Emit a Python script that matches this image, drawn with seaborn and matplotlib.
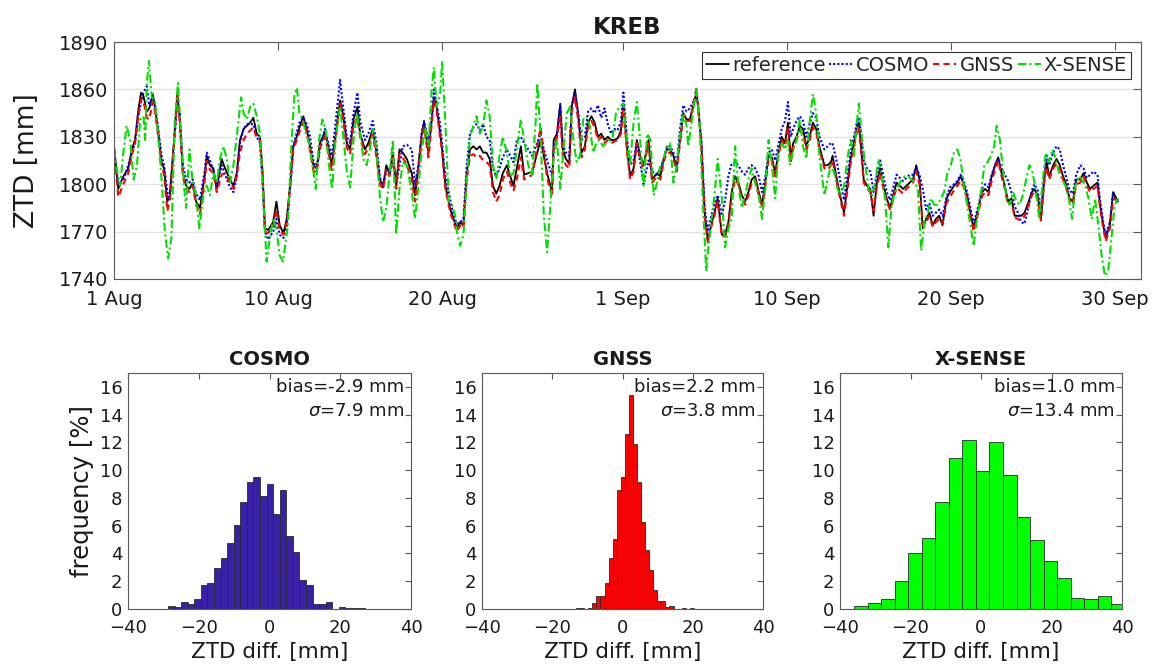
import numpy as np
import pandas as pd
import matplotlib
matplotlib.use("Agg")
import matplotlib.pyplot as plt
import seaborn as sns

# ---------------- time series data (days since 1 Aug) ----------------
day = [
    0, 0.26, 0.57, 0.87, 1.08, 1.28, 1.48, 1.65, 1.79, 2.0,
    2.15, 2.36, 2.5, 2.7, 2.9, 3.05, 3.25, 3.4, 3.66, 3.86,
    4.0, 4.2, 4.4, 4.6, 4.8, 5.0, 5.24, 5.55, 5.65, 5.85,
    6.06, 6.26, 6.56, 6.77, 7.07, 7.28, 7.48, 7.68, 7.9, 8.1,
    8.3, 8.5, 8.7, 8.9, 9.06, 9.2, 9.4, 9.7, 9.9, 10.1,
    10.33, 10.53, 10.73, 10.93, 11.14, 11.34, 11.54, 11.74, 11.95, 12.15,
    12.35, 12.55, 12.86, 13.06, 13.27, 13.47, 13.78, 13.98, 14.19, 14.39,
    14.6, 14.84, 15.0, 15.3, 15.5, 15.77, 16.0, 16.2, 16.4, 16.6,
    16.8, 17.0, 17.2, 17.4, 17.6, 17.85, 18.15, 18.35, 18.56, 18.76,
    18.9, 19.17, 19.37, 19.5, 19.67, 19.88, 20.0, 20.2, 20.5, 20.7,
    20.9, 21.1, 21.3, 21.5, 21.7, 21.9, 22.1, 22.3, 22.5, 22.7,
    22.9, 23.1, 23.3, 23.5, 23.7, 23.95, 24.15, 24.35, 24.55, 24.8,
    25.0, 25.5, 26.0, 26.2, 26.4, 26.7, 26.8, 27.0, 27.2, 27.35,
    27.55, 27.75, 27.9, 28.1, 28.3, 28.5, 28.7, 28.9, 29.1, 29.3,
    29.5, 29.7, 29.9, 30.1, 30.3, 30.5, 30.7, 30.9, 31.05, 31.26,
    31.46, 31.67, 31.87, 32.07, 32.28, 32.58, 32.8, 33.1, 33.3, 33.5,
    33.7, 33.9, 34.1, 34.3, 34.5, 34.7, 34.9, 35.1, 35.3, 35.5,
    35.6, 35.8, 36.0, 36.2, 36.4, 36.6, 36.8, 37.05, 37.25, 37.45,
    37.65, 37.86, 38.06, 38.27, 38.47, 38.67, 38.87, 39.08, 39.3, 39.5,
    39.7, 39.9, 40.1, 40.3, 40.5, 40.7, 40.9, 41.08, 41.25, 41.4,
    41.6, 41.8, 42.0, 42.2, 42.4, 42.6, 42.8, 43.0, 43.3, 43.5,
    43.7, 43.8, 44.1, 44.3, 44.5, 44.7, 44.9, 45.1, 45.3, 45.4,
    45.5, 45.7, 45.9, 46.1, 46.3, 46.5, 46.7, 46.9, 47.1, 47.3,
    47.5, 47.7, 47.9, 48.1, 48.3, 48.5, 48.7, 48.9, 49.1, 49.3,
    49.5, 49.7, 49.9, 50.1, 50.3, 50.5, 50.75, 50.95, 51.2, 51.4,
    51.6, 51.8, 52.0, 52.2, 52.4, 52.7, 52.9, 53.1, 53.3, 53.5,
    53.7, 53.9, 54.1, 54.3, 54.5, 54.7, 54.9, 55.1, 55.3, 55.5,
    55.75, 55.95, 56.1, 56.3, 56.5, 56.7, 56.85, 57.0, 57.25, 57.45,
    57.65, 57.85, 58.0, 58.25, 58.45, 58.65, 58.9, 59.1, 59.3, 59.5,
    59.7, 59.95, 60.1, 60.3, 60.45, 60.7, 60.9, 61.0, 61.2,
]

reference = [
    1824, 1797, 1805, 1810, 1822, 1828, 1847, 1858, 1856, 1846,
    1848, 1857, 1849, 1832, 1814, 1810, 1789, 1793, 1828, 1857,
    1843, 1807, 1799, 1797, 1801, 1789, 1785, 1807, 1818, 1812,
    1810, 1797, 1816, 1810, 1803, 1799, 1807, 1828, 1835, 1837,
    1839, 1842, 1832, 1830, 1807, 1772, 1771, 1776, 1789, 1774,
    1769, 1778, 1799, 1824, 1830, 1837, 1843, 1835, 1824, 1812,
    1810, 1826, 1833, 1824, 1812, 1828, 1853, 1843, 1826, 1822,
    1841, 1849, 1832, 1822, 1826, 1835, 1820, 1803, 1799, 1812,
    1807, 1820, 1799, 1822, 1820, 1816, 1807, 1793, 1812, 1832,
    1839, 1820, 1841, 1855, 1849, 1832, 1822, 1799, 1784, 1778,
    1772, 1776, 1774, 1807, 1822, 1824, 1822, 1824, 1820, 1820,
    1816, 1799, 1794, 1799, 1807, 1812, 1805, 1799, 1810, 1824,
    1806, 1808, 1828, 1818, 1807, 1795, 1828, 1832, 1851, 1822,
    1816, 1813, 1849, 1860, 1843, 1820, 1824, 1839, 1843, 1839,
    1830, 1832, 1828, 1830, 1828, 1828, 1829, 1834, 1851, 1824,
    1805, 1810, 1828, 1818, 1812, 1828, 1803, 1807, 1805, 1816,
    1822, 1822, 1818, 1810, 1828, 1845, 1841, 1841, 1849, 1858,
    1849, 1826, 1782, 1764, 1774, 1782, 1791, 1768, 1768, 1776,
    1795, 1805, 1801, 1793, 1789, 1795, 1803, 1805, 1795, 1787,
    1801, 1818, 1817, 1807, 1820, 1830, 1826, 1839, 1816, 1826,
    1830, 1837, 1835, 1824, 1830, 1839, 1835, 1824, 1812, 1812,
    1814, 1818, 1801, 1791, 1782, 1799, 1816, 1826, 1837, 1839,
    1828, 1803, 1799, 1797, 1780, 1801, 1810, 1799, 1791, 1785,
    1793, 1801, 1799, 1797, 1799, 1801, 1803, 1812, 1803, 1772,
    1778, 1782, 1774, 1778, 1780, 1774, 1791, 1795, 1799, 1801,
    1805, 1800, 1793, 1782, 1772, 1785, 1795, 1797, 1795, 1805,
    1812, 1817, 1807, 1799, 1789, 1791, 1780, 1780, 1780, 1782,
    1789, 1795, 1797, 1793, 1778, 1803, 1814, 1805, 1812, 1816,
    1812, 1805, 1801, 1791, 1789, 1803, 1803, 1807, 1801, 1797,
    1799, 1801, 1787, 1774, 1766, 1774, 1795, 1793, 1789,
]

cosmo = [
    1822, 1800, 1803, 1812, 1820, 1826, 1843, 1852, 1858, 1862,
    1850, 1855, 1850, 1835, 1818, 1812, 1795, 1790, 1825, 1853,
    1845, 1812, 1803, 1801, 1803, 1794, 1790, 1810, 1820, 1815,
    1808, 1798, 1812, 1806, 1798, 1795, 1805, 1826, 1835, 1838,
    1838, 1838, 1830, 1826, 1800, 1770, 1765, 1770, 1778, 1768,
    1766, 1774, 1797, 1824, 1833, 1840, 1842, 1838, 1830, 1815,
    1810, 1822, 1835, 1826, 1818, 1835, 1866, 1848, 1830, 1826,
    1845, 1858, 1840, 1828, 1832, 1840, 1826, 1805, 1797, 1810,
    1806, 1815, 1800, 1812, 1824, 1825, 1822, 1800, 1812, 1833,
    1840, 1828, 1842, 1860, 1850, 1838, 1825, 1805, 1790, 1780,
    1775, 1776, 1778, 1812, 1832, 1836, 1838, 1834, 1838, 1830,
    1828, 1810, 1805, 1810, 1817, 1822, 1818, 1814, 1828, 1830,
    1826, 1818, 1832, 1822, 1815, 1805, 1820, 1830, 1850, 1825,
    1820, 1818, 1850, 1858, 1845, 1828, 1830, 1846, 1848, 1845,
    1850, 1842, 1848, 1838, 1832, 1835, 1834, 1840, 1858, 1830,
    1812, 1815, 1826, 1814, 1800, 1815, 1808, 1806, 1810, 1815,
    1824, 1824, 1820, 1812, 1835, 1850, 1846, 1848, 1852, 1856,
    1850, 1828, 1785, 1770, 1780, 1788, 1793, 1780, 1790, 1805,
    1813, 1814, 1812, 1808, 1806, 1810, 1812, 1810, 1805, 1795,
    1805, 1820, 1822, 1815, 1825, 1835, 1840, 1852, 1830, 1835,
    1840, 1843, 1840, 1830, 1838, 1845, 1842, 1830, 1822, 1824,
    1826, 1826, 1812, 1800, 1790, 1805, 1820, 1830, 1840, 1842,
    1835, 1815, 1810, 1808, 1795, 1806, 1815, 1805, 1795, 1790,
    1798, 1806, 1804, 1802, 1804, 1806, 1806, 1810, 1806, 1797,
    1784, 1788, 1780, 1782, 1784, 1780, 1792, 1798, 1800, 1802,
    1806, 1802, 1795, 1785, 1775, 1787, 1797, 1800, 1798, 1806,
    1812, 1816, 1810, 1806, 1802, 1795, 1786, 1782, 1776, 1775,
    1786, 1796, 1800, 1796, 1782, 1805, 1818, 1812, 1820, 1824,
    1822, 1812, 1806, 1796, 1794, 1806, 1812, 1810, 1804, 1806,
    1808, 1806, 1790, 1776, 1768, 1776, 1795, 1792, 1790,
]

gnss = [
    1823, 1792, 1800, 1807, 1818, 1826, 1843, 1854, 1853, 1842,
    1841, 1852, 1846, 1830, 1812, 1806, 1783, 1790, 1826, 1856,
    1840, 1805, 1797, 1795, 1799, 1787, 1781, 1804, 1815, 1809,
    1807, 1795, 1806, 1807, 1801, 1797, 1805, 1820, 1828, 1832,
    1834, 1836, 1829, 1828, 1805, 1770, 1769, 1774, 1784, 1771,
    1768, 1776, 1797, 1822, 1828, 1834, 1840, 1833, 1821, 1809,
    1807, 1823, 1830, 1821, 1809, 1826, 1851, 1840, 1823, 1819,
    1838, 1842, 1830, 1819, 1823, 1832, 1817, 1800, 1797, 1809,
    1805, 1817, 1797, 1819, 1817, 1812, 1803, 1789, 1809, 1830,
    1836, 1817, 1839, 1853, 1846, 1830, 1820, 1797, 1782, 1776,
    1770, 1774, 1772, 1803, 1818, 1819, 1817, 1818, 1815, 1814,
    1812, 1795, 1789, 1793, 1803, 1808, 1801, 1796, 1803, 1817,
    1803, 1806, 1836, 1820, 1804, 1792, 1822, 1830, 1843, 1818,
    1812, 1810, 1846, 1855, 1840, 1817, 1822, 1836, 1840, 1836,
    1828, 1830, 1826, 1828, 1826, 1827, 1828, 1832, 1848, 1822,
    1803, 1808, 1826, 1816, 1810, 1826, 1801, 1805, 1803, 1814,
    1820, 1820, 1816, 1808, 1826, 1843, 1840, 1840, 1850, 1861,
    1850, 1825, 1780, 1763, 1773, 1780, 1789, 1767, 1767, 1774,
    1793, 1803, 1800, 1791, 1787, 1793, 1801, 1803, 1793, 1785,
    1799, 1816, 1815, 1805, 1818, 1828, 1824, 1836, 1814, 1823,
    1828, 1834, 1832, 1822, 1828, 1836, 1833, 1822, 1810, 1809,
    1812, 1815, 1799, 1789, 1780, 1796, 1813, 1823, 1834, 1836,
    1825, 1801, 1797, 1795, 1783, 1799, 1807, 1797, 1789, 1784,
    1790, 1798, 1796, 1794, 1797, 1799, 1801, 1808, 1800, 1774,
    1776, 1780, 1773, 1776, 1778, 1775, 1788, 1792, 1796, 1799,
    1802, 1798, 1791, 1780, 1770, 1783, 1792, 1795, 1793, 1802,
    1809, 1815, 1805, 1797, 1787, 1789, 1779, 1778, 1777, 1780,
    1787, 1793, 1795, 1791, 1777, 1801, 1811, 1803, 1810, 1813,
    1810, 1803, 1799, 1790, 1787, 1800, 1801, 1805, 1799, 1795,
    1797, 1799, 1785, 1772, 1764, 1772, 1790, 1791, 1788,
]

xsense_day = [
    0, 0.16, 0.37, 0.57, 0.77, 0.98, 1.2, 1.4, 1.6, 1.8,
    1.9, 2.0, 2.13, 2.3, 2.5, 2.7, 2.9, 3.1, 3.3, 3.5,
    3.7, 3.9, 4.1, 4.3, 4.4, 4.6, 4.8, 5.0, 5.2, 5.45,
    5.65, 5.85, 6.06, 6.26, 6.46, 6.67, 6.87, 7.07, 7.28, 7.6,
    7.75, 7.9, 8.1, 8.3, 8.5, 8.7, 8.9, 9.1, 9.3, 9.5,
    9.7, 9.9, 10.1, 10.3, 10.6, 10.8, 11.0, 11.15, 11.3, 11.5,
    11.7, 11.9, 12.1, 12.3, 12.5, 12.7, 12.9, 13.1, 13.3, 13.5,
    13.77, 14.0, 14.2, 14.4, 14.6, 14.8, 15.0, 15.2, 15.4, 15.6,
    15.8, 16.0, 16.2, 16.4, 16.6, 16.8, 17.0, 17.2, 17.4, 17.6,
    17.85, 18.15, 18.35, 18.56, 18.76, 18.97, 19.17, 19.37, 19.5, 19.67,
    19.88, 20.0, 20.2, 20.4, 20.6, 20.8, 20.9, 21.1, 21.3, 21.5,
    21.7, 21.9, 22.1, 22.3, 22.5, 22.7, 22.9, 23.1, 23.3, 23.5,
    23.7, 23.95, 24.15, 24.35, 24.55, 24.8, 25.0, 25.25, 25.46, 25.7,
    25.8, 26.0, 26.2, 26.4, 26.6, 26.8, 27.0, 27.2, 27.4, 27.6,
    27.8, 28.0, 28.2, 28.4, 28.6, 28.8, 29.0, 29.2, 29.4, 29.6,
    29.8, 30.0, 30.2, 30.4, 30.6, 30.8, 31.05, 31.26, 31.46, 31.67,
    31.87, 32.07, 32.28, 32.5, 32.7, 32.9, 33.1, 33.3, 33.5, 33.7,
    33.9, 34.1, 34.3, 34.5, 34.7, 34.9, 35.0, 35.2, 35.5, 35.7,
    35.9, 36.1, 36.2, 36.4, 36.6, 36.8, 37.05, 37.25, 37.45, 37.65,
    37.86, 38.06, 38.27, 38.47, 38.67, 38.87, 39.08, 39.3, 39.5, 39.7,
    39.9, 40.1, 40.3, 40.5, 40.7, 40.9, 41.08, 41.2, 41.4, 41.6,
    41.8, 42.0, 42.2, 42.4, 42.6, 42.8, 43.0, 43.3, 43.5, 43.7,
    43.9, 44.1, 44.3, 44.5, 44.7, 44.9, 45.1, 45.3, 45.4, 45.6,
    45.8, 46.0, 46.2, 46.4, 46.6, 46.8, 47.0, 47.2, 47.4, 47.6,
    47.8, 48.0, 48.2, 48.4, 48.6, 48.8, 49.0, 49.2, 49.4, 49.6,
    49.8, 50.0, 50.2, 50.4, 50.6, 50.8, 51.0, 51.2, 51.4, 51.6,
    51.8, 52.0, 52.2, 52.4, 52.6, 52.85, 53.05, 53.25, 53.45, 53.65,
    53.8, 54.0, 54.2, 54.4, 54.6, 54.8, 55.0, 55.2, 55.4, 55.6,
    55.8, 56.0, 56.2, 56.4, 56.6, 56.8, 57.0, 57.2, 57.4, 57.6,
    57.8, 58.0, 58.2, 58.4, 58.6, 58.8, 59.0, 59.2, 59.4, 59.6,
    59.8, 60.0, 60.2, 60.4, 60.6, 60.8, 61.0, 61.2,
]

xsense = [
    1822, 1810, 1799, 1820, 1837, 1828, 1803, 1812, 1841, 1843,
    1828, 1864, 1878, 1855, 1853, 1830, 1803, 1770, 1753, 1766,
    1839, 1864, 1828, 1795, 1785, 1822, 1801, 1793, 1772, 1793,
    1799, 1793, 1807, 1801, 1816, 1824, 1816, 1801, 1812, 1841,
    1855, 1845, 1841, 1849, 1851, 1843, 1832, 1791, 1751, 1766,
    1778, 1772, 1755, 1751, 1774, 1822, 1857, 1861, 1845, 1841,
    1832, 1826, 1812, 1797, 1828, 1841, 1835, 1812, 1797, 1828,
    1849, 1828, 1807, 1798, 1828, 1845, 1832, 1816, 1812, 1822,
    1835, 1822, 1793, 1776, 1785, 1807, 1828, 1768, 1797, 1814,
    1812, 1795, 1778, 1799, 1822, 1835, 1824, 1861, 1874, 1849,
    1857, 1878, 1839, 1789, 1787, 1780, 1770, 1761, 1768, 1803,
    1830, 1837, 1843, 1832, 1837, 1853, 1843, 1812, 1803, 1818,
    1830, 1820, 1805, 1807, 1822, 1841, 1828, 1812, 1805, 1839,
    1864, 1832, 1780, 1757, 1787, 1818, 1828, 1797, 1822, 1845,
    1849, 1828, 1814, 1818, 1841, 1843, 1837, 1820, 1826, 1828,
    1824, 1826, 1828, 1830, 1845, 1849, 1851, 1828, 1812, 1839,
    1852, 1828, 1799, 1832, 1828, 1793, 1801, 1812, 1816, 1824,
    1826, 1801, 1812, 1832, 1845, 1837, 1824, 1839, 1860, 1837,
    1787, 1745, 1757, 1776, 1793, 1816, 1791, 1760, 1772, 1778,
    1824, 1799, 1785, 1793, 1803, 1810, 1801, 1793, 1778, 1797,
    1828, 1812, 1791, 1822, 1826, 1822, 1828, 1812, 1822, 1828,
    1841, 1824, 1816, 1839, 1857, 1845, 1818, 1793, 1803, 1812,
    1807, 1797, 1793, 1799, 1816, 1828, 1818, 1841, 1851, 1828,
    1812, 1797, 1793, 1801, 1816, 1805, 1791, 1760, 1787, 1795,
    1799, 1803, 1805, 1805, 1803, 1801, 1797, 1758, 1776, 1782,
    1791, 1787, 1787, 1791, 1795, 1807, 1812, 1820, 1822, 1816,
    1799, 1787, 1774, 1761, 1778, 1795, 1812, 1814, 1818, 1824,
    1837, 1828, 1807, 1791, 1787, 1795, 1789, 1787, 1793, 1803,
    1812, 1807, 1795, 1778, 1801, 1820, 1814, 1822, 1816, 1807,
    1803, 1799, 1791, 1778, 1799, 1805, 1803, 1799, 1791, 1778,
    1791, 1774, 1755, 1742, 1745, 1766, 1787, 1791,
]

xtick_days = [0, 10, 20, 31, 41, 51, 61]
xtick_labels = ["1 Aug", "10 Aug", "20 Aug", "1 Sep", "10 Sep", "20 Sep", "30 Sep"]
yticks_top = [1740, 1770, 1800, 1830, 1860, 1890]

# ---------------- histogram data (frequency in %) ----------------
cosmo_bin_start, cosmo_bin_width = -28.67, 1.857
cosmo_freq = [0.22, 0.17, 0.5, 0.36, 0.72, 1.75, 1.9, 2.93, 3.7, 4.74,
              6.08, 7.72, 9.16, 9.52, 8.17, 8.97, 6.85, 8.58, 5.26, 4.11,
              2.12, 1.71, 0.38, 0.38, 0.53, 0.0, 0.17, 0.05, 0.1, 0.1]

gnss_bin_start, gnss_bin_width = -13.2, 1.155
gnss_freq = [0.07, 0.07, 0.0, 0.1, 0.4, 0.94, 0.94, 1.85, 3.7, 5.05,
             8.6, 9.5, 12.6, 15.4, 11.85, 9.15, 6.3, 4.25, 2.8, 1.37,
             0.6, 0.6, 0.17, 0.24, 0.0, 0.0, 0.1, 0.0, 0.05]

xsense_bin_start, xsense_bin_width = -36.0, 3.84
xsense_freq = [0.25, 0.4, 0.7, 2.05, 4.0, 5.1, 7.7, 10.85, 12.15, 9.95,
               12.0, 9.65, 6.65, 4.95, 3.45, 2.25, 0.8, 0.7, 0.95, 0.35]

hist_titles = ["COSMO", "GNSS", "X-SENSE"]
bias_texts = ["bias=-2.9 mm", "bias=2.2 mm", "bias=1.0 mm"]
sigma_texts = [r"$\sigma$=7.9 mm", r"$\sigma$=3.8 mm", r"$\sigma$=13.4 mm"]

# ---------------- styling ----------------
sns.set_theme(style="white")
plt.rcParams["font.family"] = ["DejaVu Sans"]
plt.rcParams["mathtext.fontset"] = "dejavusans"
AX_COLOR = "#5a5a5a"
TXT = "#1a1a1a"

fig = plt.figure(figsize=(11.55, 6.68), dpi=100)
W, H = 1155, 668


def add_ax(l, t, r, b):
    return fig.add_axes([l / W, 1 - b / H, (r - l) / W, (b - t) / H])


def style_axes(ax, ticklen=5):
    for s in ax.spines.values():
        s.set_color(AX_COLOR)
        s.set_linewidth(0.8)
        s.set_visible(True)
    ax.tick_params(direction="in", top=True, right=True, length=ticklen,
                   width=0.8, color=AX_COLOR, labelcolor=TXT, pad=4)


# ---------------- top time series ----------------
ax = add_ax(114, 42, 1141, 279)
ts = pd.DataFrame({"day": day, "reference": reference, "COSMO": cosmo, "GNSS": gnss})
xs = pd.DataFrame({"day": xsense_day, "X-SENSE": xsense})

sns.lineplot(data=ts, x="day", y="reference", ax=ax, color="black", lw=1.3,
             estimator=None, sort=False, label="reference")
sns.lineplot(data=ts, x="day", y="COSMO", ax=ax, color="#0000ff", lw=1.5,
             linestyle=(0, (1, 1)), estimator=None, sort=False, label="COSMO")
sns.lineplot(data=ts, x="day", y="GNSS", ax=ax, color="#ff0000", lw=1.5,
             linestyle=(0, (3, 2)), estimator=None, sort=False, label="GNSS")
sns.lineplot(data=xs, x="day", y="X-SENSE", ax=ax, color="#00e000", lw=1.5,
             linestyle=(0, (4, 1.5, 1, 1.5)), estimator=None, sort=False, label="X-SENSE")

ax.set_xlim(0, 62.6)
ax.set_ylim(1740, 1890)
ax.set_yticks(yticks_top)
ax.set_xticks(xtick_days)
ax.set_xticklabels(xtick_labels)
style_axes(ax, ticklen=6)
ax.tick_params(labelsize=14)
ax.tick_params(axis="x", pad=8)
ax.yaxis.grid(True, color="#e2e2e2", lw=0.9)
ax.xaxis.grid(False)
ax.set_axisbelow(True)
ax.set_xlabel("")
ax.set_ylabel("ZTD [mm]", fontsize=19, color=TXT, labelpad=14)
ax.set_title("KREB", fontsize=16.5, fontweight="bold", color=TXT, pad=6)
leg = ax.legend(loc="upper right", bbox_to_anchor=(0.9903, 0.958), borderaxespad=0,
                ncol=4, fontsize=14, frameon=True, fancybox=False, framealpha=1,
                handlelength=1.2, handletextpad=0.15, columnspacing=0.2,
                borderpad=0.2, edgecolor="#333333")
leg.get_frame().set_linewidth(0.8)

# ---------------- histograms ----------------
hist_boxes = [(128, 373, 411, 609), (482, 373, 763, 609), (840, 373, 1122, 609)]
hist_data = [
    (cosmo_bin_start, cosmo_bin_width, cosmo_freq, "#3a20a6"),
    (gnss_bin_start, gnss_bin_width, gnss_freq, "#ff0000"),
    (xsense_bin_start, xsense_bin_width, xsense_freq, "#00ff00"),
]

for i, (box, (b0, bw, freq, col)) in enumerate(zip(hist_boxes, hist_data)):
    hax = add_ax(*box)
    edges = [b0 + bw * k for k in range(len(freq) + 1)]
    hdf = pd.DataFrame({"center": [e + bw / 2 for e in edges[:-1]],
                        "freq": [float(v) for v in freq]})
    sns.histplot(data=hdf, x="center", weights="freq", bins=edges, ax=hax,
                 color=col, alpha=1, edgecolor="#2a2a2a", linewidth=0.6)
    hax.set_xlim(-40, 40)
    hax.set_ylim(0, 17)
    hax.set_xticks([-40, -20, 0, 20, 40])
    hax.set_yticks(range(0, 17, 2))
    style_axes(hax, ticklen=4)
    hax.tick_params(labelsize=13)
    hax.tick_params(axis="x", pad=7)
    hax.set_title(hist_titles[i], fontsize=14, fontweight="bold", color=TXT, pad=6)
    hax.set_xlabel("ZTD diff. [mm]", fontsize=15.5, color=TXT, labelpad=4)
    if i == 0:
        hax.set_ylabel("frequency [%]", fontsize=17.5, color=TXT, labelpad=4)
    else:
        hax.set_ylabel("")
    hax.text(0.975, 0.941, bias_texts[i], transform=hax.transAxes, ha="right",
             va="center", fontsize=13, color=TXT)
    hax.text(0.975, 0.839, sigma_texts[i], transform=hax.transAxes, ha="right",
             va="center", fontsize=13, color=TXT)

fig.savefig("out.png", dpi=100, facecolor="white")
